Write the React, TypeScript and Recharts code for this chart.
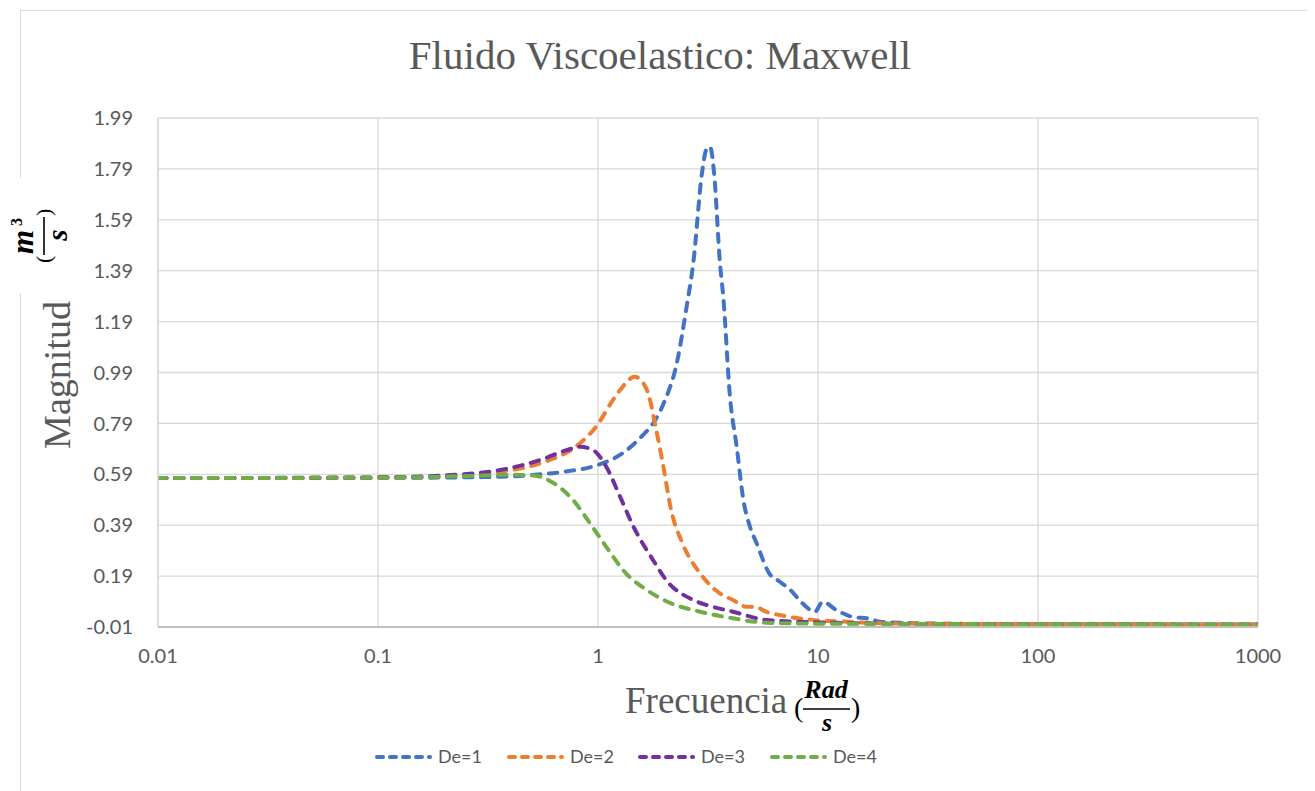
import { LineChart, Line, XAxis, YAxis, CartesianGrid } from 'recharts'

// ── Datos (frecuencia rad/s, magnitud m³/s) ──────────────────────────────────
const de1: [number, number][] = [
  [0.01, 0.575], [0.1, 0.576], [0.3, 0.579], [0.5, 0.587], [0.7, 0.6], [1, 0.627],
  [1.3, 0.674], [1.6, 0.744], [1.78, 0.79], [2.0, 0.874], [2.28, 1.026], [2.53, 1.25],
  [2.71, 1.419], [2.97, 1.774], [3.1, 1.864], [3.23, 1.877], [3.37, 1.774], [3.585, 1.419],
  [3.71, 1.288], [3.98, 0.895], [4.27, 0.698], [4.58, 0.489], [4.91, 0.383], [5.26, 0.319],
  [6.0, 0.201], [6.71, 0.168], [7.5, 0.135], [8.5, 0.083], [9.69, 0.05], [10.5, 0.089],
  [12.1, 0.057], [14.3, 0.03], [17.2, 0.022], [19, 0.011], [27, 0.005], [50, 0.002],
  [100, 0.001], [1000, 0],
]

const de2: [number, number][] = [
  [0.01, 0.575], [0.1, 0.577], [0.2, 0.583], [0.36, 0.6], [0.545, 0.633], [0.828, 0.712],
  [0.98, 0.777], [1.17, 0.882], [1.26, 0.921], [1.47, 0.973], [1.67, 0.921], [1.84, 0.764],
  [1.97, 0.633], [2.15, 0.45], [2.42, 0.319], [2.91, 0.201], [3.58, 0.122], [4.11, 0.096],
  [4.7, 0.07], [5.2, 0.069], [5.8, 0.05], [6.71, 0.037], [9.4, 0.018], [13.5, 0.011],
  [19, 0.005], [50, 0.002], [1000, 0],
]

const de3: [number, number][] = [
  [0.01, 0.575], [0.1, 0.578], [0.253, 0.591], [0.359, 0.607], [0.545, 0.646], [0.72, 0.685],
  [0.828, 0.698], [0.95, 0.685], [1.09, 0.62], [1.26, 0.502], [1.45, 0.384], [1.78, 0.253],
  [2.04, 0.175], [2.71, 0.096], [3.13, 0.076], [4.11, 0.05], [5.8, 0.018], [10, 0.008],
  [30, 0.002], [1000, 0],
]

const de4: [number, number][] = [
  [0.01, 0.575], [0.1, 0.577], [0.25, 0.583], [0.4, 0.588], [0.51, 0.585], [0.63, 0.555],
  [0.77, 0.489], [0.92, 0.397], [1.09, 0.305], [1.34, 0.201], [1.67, 0.135], [2.15, 0.083],
  [2.91, 0.05], [4.11, 0.024], [5.8, 0.007], [10, 0.003], [1000, 0],
]

const xTicks = [0.01, 0.1, 1, 10, 100, 1000]
const yTicks = [-0.01, 0.19, 0.39, 0.59, 0.79, 0.99, 1.19, 1.39, 1.59, 1.79, 1.99]

const seriesNames = ['De=1', 'De=2', 'De=3', 'De=4']
const seriesColors = ['#4472C4', '#ED7D31', '#7030A0', '#70AD47']
const seriesData = [de1, de2, de3, de4].map((s) => s.map(([x, y]) => ({ x, y })))

const W = 1307
const H = 783
const serif = "'Liberation Serif', 'Times New Roman', serif"
const sans = "Lato, 'Open Sans', sans-serif"
const grey = '#595959'

// ── Leyenda, título y etiquetas de ejes ──────────────────────────────────────
const legendX = [367, 499, 630, 762]

function Overlay() {
  return (
    <svg width={W} height={H} style={{ position: 'absolute', left: 0, top: 0, pointerEvents: 'none' }}>
      <rect x={12.5} y={2.5} width={1400} height={900} fill="none" stroke="#d9d9d9" strokeWidth={1} />
      <text x={652} y={61} textAnchor="middle" fontFamily={serif} fontSize={41} fill={grey}>
        Fluido Viscoelastico: Maxwell
      </text>

      {/* eje Y */}
      <text x={62} y={367} transform="rotate(-90, 62, 367)" textAnchor="middle" fontFamily={serif} fontSize={38} fill={grey}>
        Magnitud
      </text>
      <rect x={6} y={170} width={16} height={115} fill="#fff" />
      <g transform="translate(36,228) rotate(-90)" fontFamily={serif} fill="#000">
        <text x={-27} y={7} fontSize={22}>(</text>
        <text x={-6} y={-11} textAnchor="middle" fontSize={31} fontWeight="bold" fontStyle="italic">m</text>
        <text x={10} y={-22} fontSize={16} fontWeight="bold">3</text>
        <line x1={-19} y1={0} x2={19} y2={0} stroke="#000" strokeWidth={1.6} />
        <text x={1} y={23} textAnchor="middle" fontSize={29} fontWeight="bold" fontStyle="italic">s</text>
        <text x={20} y={7} fontSize={22}>)</text>
      </g>

      {/* eje X */}
      <text x={617} y={705} fontFamily={serif} fontSize={37} fill={grey}>Frecuencia</text>
      <g fontFamily={serif} fill="#000">
        <text x={786} y={709} fontSize={28}>(</text>
        <text x={818} y={690} textAnchor="middle" fontSize={26} fontWeight="bold" fontStyle="italic">Rad</text>
        <line x1={795} y1={701} x2={842} y2={701} stroke="#000" strokeWidth={1.6} />
        <text x={819} y={723} textAnchor="middle" fontSize={26} fontWeight="bold" fontStyle="italic">s</text>
        <text x={843} y={709} fontSize={28}>)</text>
      </g>

      {/* leyenda */}
      {seriesNames.map((name, i) => (
        <g key={name}>
          <line
            x1={legendX[i] + 2}
            y1={749}
            x2={legendX[i] + 55}
            y2={749}
            stroke={seriesColors[i]}
            strokeWidth={4}
            strokeDasharray="6 7"
            strokeLinecap="round"
          />
          <text x={legendX[i] + 63} y={755} fontFamily={sans} fontSize={18} fill={grey}>{name}</text>
        </g>
      ))}
    </svg>
  )
}

export default function App() {
  return (
    <div style={{ position: 'relative', width: W, height: H, overflow: 'hidden', background: '#fff' }}>
      <LineChart width={W} height={H} margin={{ top: 110, right: 57, left: 90, bottom: 134 }}>
        <CartesianGrid stroke="#d9d9d9" strokeWidth={1.3} />
        <XAxis
          dataKey="x"
          type="number"
          scale="log"
          domain={[0.01, 1000]}
          ticks={xTicks}
          allowDataOverflow
          height={30}
          tickFormatter={(v: number) => String(v)}
          tick={{ fontSize: 20, fill: grey, fontFamily: sans }}
          tickLine={false}
          tickMargin={16}
          axisLine={{ stroke: '#bfbfbf', strokeWidth: 2 }}
        />
        <YAxis
          type="number"
          domain={[-0.01, 1.99]}
          ticks={yTicks}
          allowDataOverflow
          width={60}
          tickFormatter={(v: number) => v.toFixed(2)}
          tick={{ fontSize: 20, fill: grey, fontFamily: sans }}
          tickLine={false}
          tickMargin={19}
          axisLine={{ stroke: '#d9d9d9', strokeWidth: 1.3 }}
        />
        {seriesData.map((data, i) => (
          <Line
            key={seriesNames[i]}
            data={data}
            dataKey="y"
            name={seriesNames[i]}
            type="monotone"
            stroke={seriesColors[i]}
            strokeWidth={4}
            strokeDasharray="8.5 8.5"
            strokeLinecap="round"
            dot={false}
            activeDot={false}
            isAnimationActive={false}
          />
        ))}
      </LineChart>
      <Overlay />
    </div>
  )
}
